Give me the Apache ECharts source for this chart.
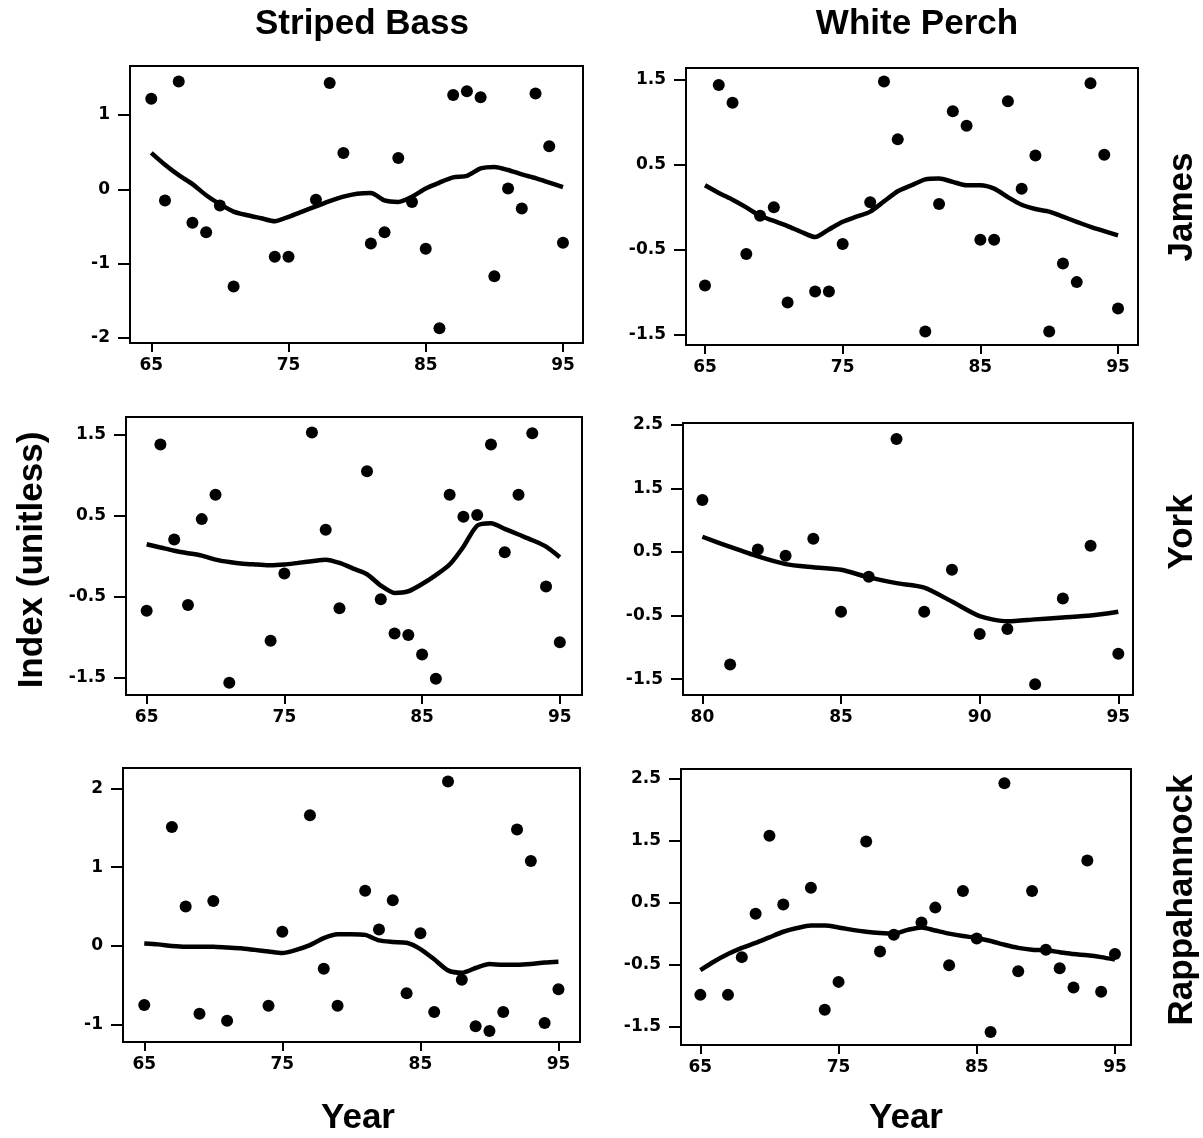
<!DOCTYPE html>
<html>
<head>
<meta charset="utf-8">
<script src="https://cdn.jsdelivr.net/npm/echarts@6/dist/echarts.min.js"></script>
<style>
html,body{margin:0;padding:0;background:#fff;}
#chart{width:1203px;height:1138px;}
</style>
</head>
<body>
<div id="chart"></div>
<script>
// ---------- data ----------
var columnTitles = ['Striped Bass', 'White Perch'];
var rowTitles = ['James', 'York', 'Rappahannock'];
var yAxisTitle = 'Index (unitless)';
var xAxisTitle = 'Year';

var xTicksLong = [65, 75, 85, 95];
var xTicksYork = [80, 85, 90, 95];
var yTicksSB_James = [-2, -1, 0, 1];
var yTicksWP_James = [-1.5, -0.5, 0.5, 1.5];
var yTicksSB_York = [-1.5, -0.5, 0.5, 1.5];
var yTicksWP_York = [-1.5, -0.5, 0.5, 1.5, 2.5];
var yTicksSB_Rapp = [-1, 0, 1, 2];
var yTicksWP_Rapp = [-1.5, -0.5, 0.5, 1.5, 2.5];

// Striped Bass - James
var sbJamesYears = [65,66,67,68,69,70,71,74,75,77,78,79,81,82,83,84,85,86,87,88,89,90,91,92,93,94,95];
var sbJamesValues = [1.22,-0.15,1.45,-0.45,-0.58,-0.22,-1.31,-0.91,-0.91,-0.14,1.43,0.49,-0.73,-0.58,0.42,-0.17,-0.80,-1.87,1.27,1.32,1.24,-1.17,0.01,-0.26,1.29,0.58,-0.72];
var sbJamesTrendYears = [65,66,67,68,69,70,71,72,73,74,75,76,77,78,79,80,81,82,83,84,85,86,87,88,89,90,91,92,93,94,95];
var sbJamesTrend = [0.49,0.33,0.19,0.07,-0.08,-0.20,-0.30,-0.35,-0.39,-0.43,-0.37,-0.30,-0.23,-0.16,-0.10,-0.06,-0.05,-0.15,-0.17,-0.10,0.01,0.09,0.16,0.18,0.28,0.30,0.26,0.20,0.15,0.09,0.03];

// White Perch - James
var wpJamesYears = [65,66,67,68,69,70,71,73,74,75,77,78,79,81,82,83,84,85,86,87,88,89,90,91,92,93,94,95];
var wpJamesValues = [-0.92,1.44,1.23,-0.55,-0.10,0.00,-1.12,-0.99,-0.99,-0.43,0.06,1.48,0.80,-1.46,0.04,1.13,0.96,-0.38,-0.38,1.25,0.22,0.61,-1.46,-0.66,-0.88,1.46,0.62,-1.19];
var wpJamesTrendYears = [65,66,67,68,69,70,71,72,73,74,75,76,77,78,79,80,81,82,83,84,85,86,87,88,89,90,91,92,93,94,95];
var wpJamesTrend = [0.26,0.17,0.09,0.00,-0.10,-0.16,-0.22,-0.29,-0.35,-0.26,-0.17,-0.11,-0.05,0.07,0.19,0.26,0.33,0.34,0.30,0.26,0.26,0.22,0.12,0.03,-0.02,-0.05,-0.11,-0.17,-0.23,-0.28,-0.33];

// Striped Bass - York
var sbYorkYears = [65,66,67,68,69,70,71,74,75,77,78,79,81,82,83,84,85,86,87,88,89,90,91,92,93,94,95];
var sbYorkValues = [-0.67,1.38,0.21,-0.60,0.46,0.76,-1.56,-1.04,-0.21,1.53,0.33,-0.64,1.05,-0.53,-0.95,-0.97,-1.21,-1.51,0.76,0.49,0.51,1.38,0.05,0.76,1.52,-0.37,-1.06];
var sbYorkTrendYears = [65,66,67,68,69,70,71,72,73,74,75,76,77,78,79,80,81,82,83,84,85,86,87,88,89,90,91,92,93,94,95];
var sbYorkTrend = [0.15,0.11,0.07,0.04,0.01,-0.04,-0.07,-0.09,-0.10,-0.11,-0.10,-0.08,-0.06,-0.04,-0.08,-0.15,-0.22,-0.36,-0.45,-0.43,-0.34,-0.23,-0.10,0.12,0.38,0.41,0.34,0.27,0.20,0.12,-0.01];

// White Perch - York
var wpYorkYears = [80,81,82,83,84,85,86,87,88,89,90,91,92,93,94,95];
var wpYorkValues = [1.32,-1.27,0.54,0.44,0.71,-0.44,0.11,2.28,-0.44,0.22,-0.79,-0.71,-1.58,-0.23,0.60,-1.10];
var wpYorkTrendYears = [80,81,82,83,84,85,86,87,88,89,90,91,92,93,94,95];
var wpYorkTrend = [0.74,0.58,0.43,0.31,0.26,0.22,0.10,0.01,-0.06,-0.28,-0.51,-0.59,-0.56,-0.53,-0.50,-0.44];

// Striped Bass - Rappahannock
var sbRappYears = [65,67,68,69,70,71,74,75,77,78,79,81,82,83,84,85,86,87,88,89,90,91,92,93,94,95];
var sbRappValues = [-0.75,1.51,0.50,-0.86,0.57,-0.95,-0.76,0.18,1.66,-0.29,-0.76,0.70,0.21,0.58,-0.60,0.16,-0.84,2.09,-0.43,-1.02,-1.08,-0.84,1.48,1.08,-0.98,-0.55];
var sbRappTrendYears = [65,66,67,68,69,70,71,72,73,74,75,76,77,78,79,80,81,82,83,84,85,86,87,88,89,90,91,92,93,94,95];
var sbRappTrend = [0.03,0.02,0.00,-0.01,-0.01,-0.01,-0.02,-0.03,-0.05,-0.07,-0.09,-0.05,0.01,0.10,0.15,0.15,0.14,0.07,0.05,0.04,-0.04,-0.17,-0.31,-0.34,-0.28,-0.23,-0.24,-0.24,-0.23,-0.21,-0.20];

// White Perch - Rappahannock
var wpRappYears = [65,67,68,69,70,71,73,74,75,77,78,79,81,82,83,84,85,86,87,88,89,90,91,92,93,94,95];
var wpRappValues = [-0.99,-0.99,-0.38,0.32,1.58,0.47,0.74,-1.23,-0.78,1.49,-0.29,-0.02,0.18,0.42,-0.51,0.69,-0.08,-1.59,2.43,-0.61,0.69,-0.26,-0.56,-0.87,1.18,-0.94,-0.33];
var wpRappTrendYears = [65,66,67,68,69,70,71,72,73,74,75,76,77,78,79,80,81,82,83,84,85,86,87,88,89,90,91,92,93,94,95];
var wpRappTrend = [-0.59,-0.45,-0.33,-0.23,-0.15,-0.06,0.03,0.09,0.13,0.13,0.10,0.06,0.03,0.01,0.00,0.06,0.10,0.05,0.00,-0.04,-0.07,-0.12,-0.18,-0.23,-0.26,-0.27,-0.30,-0.33,-0.35,-0.38,-0.42];

// ---------- build ----------
function zip(a, b) { return a.map(function (v, i) { return [v, b[i]]; }); }

var panels = [
  { grid: {left:130, top:66, width:453, height:277}, x:[63.45, 96.46], y:[-2.07, 1.66], xt: xTicksLong, yt: yTicksSB_James,
    px: sbJamesYears, py: sbJamesValues, lx: sbJamesTrendYears, ly: sbJamesTrend },
  { grid: {left:686, top:68, width:452, height:277}, x:[63.62, 96.45], y:[-1.62, 1.64], xt: xTicksLong, yt: yTicksWP_James,
    px: wpJamesYears, py: wpJamesValues, lx: wpJamesTrendYears, ly: wpJamesTrend },
  { grid: {left:126, top:417, width:456, height:278}, x:[63.50, 96.61], y:[-1.71, 1.72], xt: xTicksLong, yt: yTicksSB_York,
    px: sbYorkYears, py: sbYorkValues, lx: sbYorkTrendYears, ly: sbYorkTrend },
  { grid: {left:683, top:423, width:450, height:272}, x:[79.30, 95.53], y:[-1.75, 2.53], xt: xTicksYork, yt: yTicksWP_York,
    px: wpYorkYears, py: wpYorkValues, lx: wpYorkTrendYears, ly: wpYorkTrend },
  { grid: {left:123, top:768, width:457, height:274}, x:[63.46, 96.56], y:[-1.22, 2.26], xt: xTicksLong, yt: yTicksSB_Rapp,
    px: sbRappYears, py: sbRappValues, lx: sbRappTrendYears, ly: sbRappTrend },
  { grid: {left:681, top:769, width:450, height:276}, x:[63.60, 96.16], y:[-1.80, 2.66], xt: xTicksLong, yt: yTicksWP_Rapp,
    px: wpRappYears, py: wpRappValues, lx: wpRappTrendYears, ly: wpRappTrend }
];

var tickFont = { color:'#000', fontSize:17, fontWeight:'bold', fontFamily:'DejaVu Sans' };
var grids = [], xAxes = [], yAxes = [], series = [];
panels.forEach(function (p, i) {
  grids.push(Object.assign({ show:true, borderColor:'#000', borderWidth:2, backgroundColor:'#fff' }, p.grid));
  xAxes.push({
    type:'value', gridIndex:i, min:p.x[0], max:p.x[1], position:'bottom',
    axisLine:{show:false, onZero:false}, splitLine:{show:false},
    axisTick:{show:true, length:9, customValues:p.xt, lineStyle:{color:'#000', width:2}},
    axisLabel:Object.assign({ customValues:p.xt, margin:14, formatter:function(v){return String(v);} }, tickFont)
  });
  yAxes.push({
    type:'value', gridIndex:i, min:p.y[0], max:p.y[1], position:'left',
    axisLine:{show:false, onZero:false}, splitLine:{show:false},
    axisTick:{show:true, length:12, customValues:p.yt, lineStyle:{color:'#000', width:2}},
    axisLabel:Object.assign({ customValues:p.yt, margin:20, formatter:function(v){return String(v);} }, tickFont)
  });
  series.push({
    type:'line', xAxisIndex:i, yAxisIndex:i, data:zip(p.lx, p.ly), showSymbol:false, smooth:0.25,
    lineStyle:{color:'#000', width:4.5}, silent:true, z:2
  });
  series.push({
    type:'scatter', xAxisIndex:i, yAxisIndex:i, data:zip(p.px, p.py), symbol:'circle', symbolSize:12,
    itemStyle:{color:'#000', opacity:1}, silent:true, z:3
  });
});

var bigFont = 'bold 35px "Liberation Sans", Arial, sans-serif';
var graphics = [
  { type:'text', x:362, y:24, style:{ text:columnTitles[0], font:bigFont, fill:'#000', textAlign:'center', textVerticalAlign:'middle' } },
  { type:'text', x:917, y:24, style:{ text:columnTitles[1], font:bigFont, fill:'#000', textAlign:'center', textVerticalAlign:'middle' } },
  { type:'text', x:32, y:560, rotation:Math.PI/2, style:{ text:yAxisTitle, font:bigFont, fill:'#000', textAlign:'center', textVerticalAlign:'middle' } },
  { type:'text', x:1182, y:207, rotation:Math.PI/2, style:{ text:rowTitles[0], font:bigFont, fill:'#000', textAlign:'center', textVerticalAlign:'middle' } },
  { type:'text', x:1182, y:532, rotation:Math.PI/2, style:{ text:rowTitles[1], font:bigFont, fill:'#000', textAlign:'center', textVerticalAlign:'middle' } },
  { type:'text', x:1182, y:900, rotation:Math.PI/2, style:{ text:rowTitles[2], font:bigFont, fill:'#000', textAlign:'center', textVerticalAlign:'middle' } },
  { type:'text', x:358, y:1118, style:{ text:xAxisTitle, font:bigFont, fill:'#000', textAlign:'center', textVerticalAlign:'middle' } },
  { type:'text', x:906, y:1118, style:{ text:xAxisTitle, font:bigFont, fill:'#000', textAlign:'center', textVerticalAlign:'middle' } }
];

var chart = echarts.init(document.getElementById('chart'), null, { renderer:'canvas' });
chart.setOption({
  animation:false,
  backgroundColor:'#fff',
  grid:grids, xAxis:xAxes, yAxis:yAxes, series:series,
  graphic:graphics
});
</script>
</body>
</html>
